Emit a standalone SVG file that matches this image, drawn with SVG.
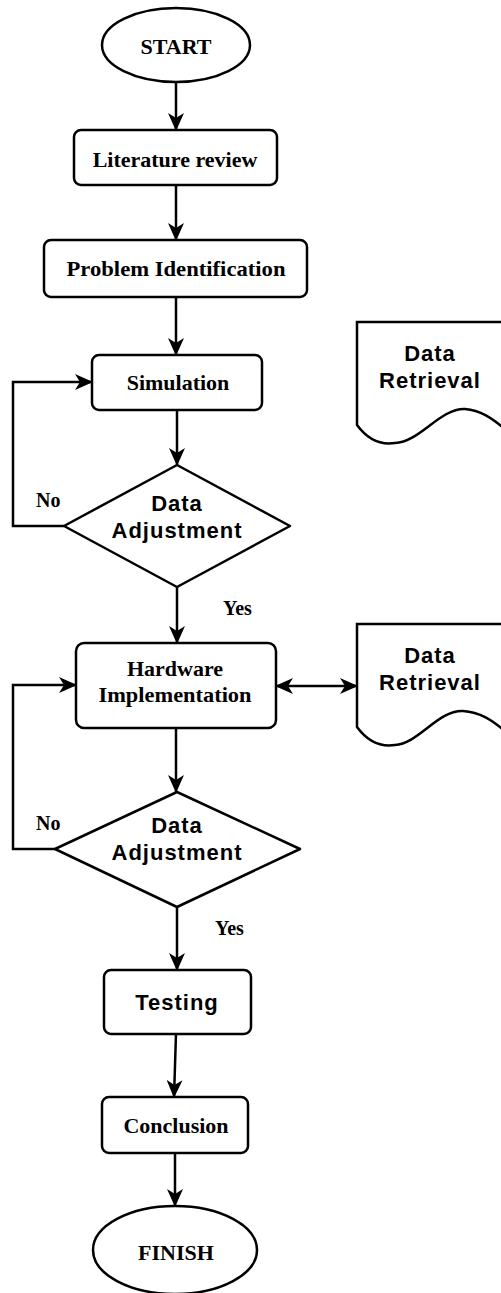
<svg xmlns="http://www.w3.org/2000/svg" width="501" height="1293" viewBox="0 0 501 1293">
<defs>
<marker id="ah" viewBox="0 0 18 16" refX="17" refY="8" markerWidth="18" markerHeight="16" markerUnits="userSpaceOnUse" orient="auto-start-reverse">
<path d="M0,0 L18,8 L0,16 L5,8 z" fill="#000"/>
</marker>
<style>
.sh{fill:#fff;stroke:#000;stroke-width:2.5}
.cn{fill:none;stroke:#000;stroke-width:2.5}
.sr{font-family:"Liberation Serif","Times New Roman",serif;font-weight:bold;font-size:22px;text-anchor:middle;fill:#000}
.ss{font-family:"Liberation Sans",Arial,sans-serif;font-weight:bold;font-size:22px;letter-spacing:1px;text-anchor:middle;fill:#000}
.lb{font-family:"Liberation Serif","Times New Roman",serif;font-weight:bold;font-size:20px;fill:#000}
</style>
</defs>
<rect width="501" height="1293" fill="#fff"/>
<g id="connectors">
<line class="cn" x1="176" y1="82" x2="176" y2="130" marker-end="url(#ah)"/>
<line class="cn" x1="176" y1="185" x2="176" y2="240" marker-end="url(#ah)"/>
<line class="cn" x1="176" y1="297" x2="176" y2="355" marker-end="url(#ah)"/>
<line class="cn" x1="177" y1="410" x2="177" y2="465" marker-end="url(#ah)"/>
<polyline class="cn" points="64,526 13,526 13,382 92,382" marker-end="url(#ah)"/>
<line class="cn" x1="177" y1="587" x2="177" y2="643" marker-end="url(#ah)"/>
<line class="cn" x1="276" y1="686" x2="357" y2="686" marker-start="url(#ah)" marker-end="url(#ah)"/>
<line class="cn" x1="176" y1="728" x2="176" y2="792" marker-end="url(#ah)"/>
<polyline class="cn" points="55,849 13,849 13,685 76,685" marker-end="url(#ah)"/>
<line class="cn" x1="177" y1="907" x2="177" y2="970" marker-end="url(#ah)"/>
<line class="cn" x1="176" y1="1034" x2="174" y2="1097" marker-end="url(#ah)"/>
<line class="cn" x1="175" y1="1153" x2="175" y2="1206" marker-end="url(#ah)"/>
<text class="lb" x="36" y="507">No</text>
<text class="lb" x="223" y="615">Yes</text>
<text class="lb" x="36" y="830">No</text>
<text class="lb" x="215" y="935">Yes</text>
</g>
<g id="start">
<ellipse class="sh" cx="176" cy="45" rx="74" ry="37"/>
<text class="sr" x="176" y="54">START</text>
</g>
<g id="literature">
<rect class="sh" x="74" y="130" width="203" height="55" rx="7"/>
<text class="sr" x="175" y="167">Literature review</text>
</g>
<g id="problem">
<rect class="sh" x="44" y="240" width="263" height="57" rx="7"/>
<text class="sr" x="176" y="276" textLength="219" lengthAdjust="spacingAndGlyphs">Problem Identification</text>
</g>
<g id="simulation">
<rect class="sh" x="92" y="355" width="170" height="55" rx="7"/>
<text class="sr" x="178" y="390">Simulation</text>
</g>
<g id="decision1">
<path class="sh" d="M177,465 L290,526 L177,587 L64,526 Z" stroke-linejoin="round"/>
<text class="ss" x="177" y="511">Data</text>
<text class="ss" x="177" y="538">Adjustment</text>
</g>
<g id="retrieval1">
<path class="sh" d="M357,322 H506 V430 C492,418 480,410 465,409 C440,408 420,442 395,443 C382,445 368,440 357,425 Z"/>
<text class="ss" x="430" y="361">Data</text>
<text class="ss" x="430" y="388">Retrieval</text>
</g>
<g id="hardware">
<rect class="sh" x="76" y="643" width="200" height="85" rx="8"/>
<text class="sr" x="175" y="676">Hardware</text>
<text class="sr" x="175" y="702" textLength="153" lengthAdjust="spacingAndGlyphs">Implementation</text>
</g>
<g id="retrieval2">
<path class="sh" d="M357,624 H506 V732 C492,720 480,712 463,711 C438,710 418,744 395,745 C382,747 368,742 357,727 Z"/>
<text class="ss" x="430" y="663">Data</text>
<text class="ss" x="430" y="690">Retrieval</text>
</g>
<g id="decision2">
<path class="sh" d="M177,792 L300,849 L177,907 L55,849 Z" stroke-linejoin="round"/>
<text class="ss" x="177" y="833">Data</text>
<text class="ss" x="177" y="860">Adjustment</text>
</g>
<g id="testing">
<rect class="sh" x="104" y="970" width="147" height="64" rx="7"/>
<text class="ss" x="177" y="1010">Testing</text>
</g>
<g id="conclusion">
<rect class="sh" x="102" y="1097" width="146" height="56" rx="7"/>
<text class="sr" x="176" y="1133">Conclusion</text>
</g>
<g id="finish">
<ellipse class="sh" cx="175" cy="1250" rx="82" ry="44"/>
<text class="sr" x="176" y="1260">FINISH</text>
</g>
</svg>
